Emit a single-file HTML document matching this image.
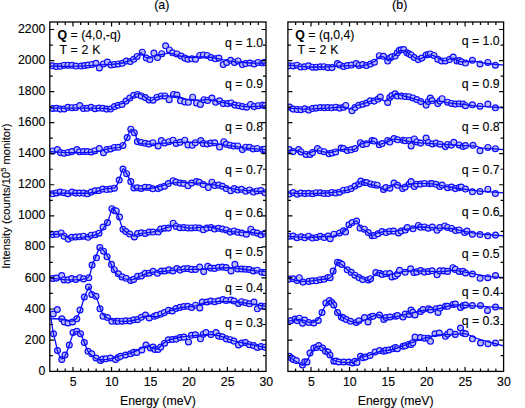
<!DOCTYPE html>
<html><head><meta charset="utf-8"><style>
html,body{margin:0;padding:0;background:#fff;}
body{width:525px;height:408px;overflow:hidden;font-family:"Liberation Sans", sans-serif;}
svg{display:block;}
</style></head><body>
<svg width="525" height="408" viewBox="0 0 525 408">
<rect width="525" height="408" fill="#fff"/>
<clipPath id="ca"><rect x="49.80" y="22.00" width="216.20" height="349.40"/></clipPath>
<g clip-path="url(#ca)">
<g fill="#bcbcf2" stroke="#0a0aff" stroke-width="1.15">
<circle cx="52.5" cy="65.8" r="2.95"/>
<circle cx="56.3" cy="66.5" r="2.95"/>
<circle cx="60.3" cy="66.3" r="2.95"/>
<circle cx="64.2" cy="65.2" r="2.95"/>
<circle cx="68.0" cy="65.2" r="2.95"/>
<circle cx="71.8" cy="65.3" r="2.95"/>
<circle cx="75.9" cy="66.0" r="2.95"/>
<circle cx="81.1" cy="66.1" r="2.95"/>
<circle cx="84.6" cy="65.6" r="2.95"/>
<circle cx="88.0" cy="65.0" r="2.95"/>
<circle cx="92.0" cy="64.4" r="2.95"/>
<circle cx="96.0" cy="63.3" r="2.95"/>
<circle cx="99.4" cy="67.9" r="2.95"/>
<circle cx="103.4" cy="63.9" r="2.95"/>
<circle cx="107.4" cy="62.1" r="2.95"/>
<circle cx="110.9" cy="65.0" r="2.95"/>
<circle cx="114.3" cy="64.4" r="2.95"/>
<circle cx="118.3" cy="63.9" r="2.95"/>
<circle cx="122.3" cy="63.3" r="2.95"/>
<circle cx="126.3" cy="61.0" r="2.95"/>
<circle cx="130.3" cy="61.6" r="2.95"/>
<circle cx="133.7" cy="59.3" r="2.95"/>
<circle cx="137.1" cy="56.4" r="2.95"/>
<circle cx="142.3" cy="52.2" r="2.95"/>
<circle cx="146.3" cy="58.0" r="2.95"/>
<circle cx="149.9" cy="59.5" r="2.95"/>
<circle cx="153.9" cy="53.0" r="2.95"/>
<circle cx="157.5" cy="57.5" r="2.95"/>
<circle cx="161.8" cy="53.7" r="2.95"/>
<circle cx="165.6" cy="45.8" r="2.95"/>
<circle cx="169.4" cy="49.9" r="2.95"/>
<circle cx="172.6" cy="52.8" r="2.95"/>
<circle cx="176.9" cy="53.9" r="2.95"/>
<circle cx="181.2" cy="56.0" r="2.95"/>
<circle cx="184.8" cy="58.1" r="2.95"/>
<circle cx="188.0" cy="59.2" r="2.95"/>
<circle cx="191.8" cy="58.8" r="2.95"/>
<circle cx="195.5" cy="59.2" r="2.95"/>
<circle cx="199.7" cy="55.4" r="2.95"/>
<circle cx="203.4" cy="54.9" r="2.95"/>
<circle cx="207.2" cy="55.4" r="2.95"/>
<circle cx="211.0" cy="57.5" r="2.95"/>
<circle cx="215.3" cy="58.8" r="2.95"/>
<circle cx="218.9" cy="58.1" r="2.95"/>
<circle cx="223.2" cy="64.5" r="2.95"/>
<circle cx="226.8" cy="62.4" r="2.95"/>
<circle cx="230.7" cy="60.3" r="2.95"/>
<circle cx="234.5" cy="62.4" r="2.95"/>
<circle cx="238.1" cy="60.9" r="2.95"/>
<circle cx="242.4" cy="64.5" r="2.95"/>
<circle cx="245.6" cy="63.5" r="2.95"/>
<circle cx="249.9" cy="63.0" r="2.95"/>
<circle cx="254.1" cy="63.9" r="2.95"/>
<circle cx="258.0" cy="62.4" r="2.95"/>
<circle cx="262.7" cy="63.0" r="2.95"/>
<circle cx="264.8" cy="62.2" r="2.95"/>
</g>
<path d="M50.00,66.20 C54.83,66.20 70.67,66.43 79.00,66.20 C87.33,65.97 94.50,65.12 100.00,64.80 C105.50,64.48 108.33,64.60 112.00,64.30 C115.67,64.00 119.33,63.52 122.00,63.00 C124.67,62.48 126.17,61.78 128.00,61.20 C129.83,60.62 131.58,60.20 133.00,59.50 C134.42,58.80 135.13,58.08 136.50,57.00 C137.87,55.92 139.90,53.03 141.20,53.00 C142.50,52.97 142.90,55.97 144.30,56.80 C145.70,57.63 147.70,58.13 149.60,58.00 C151.50,57.87 153.67,56.58 155.70,56.00 C157.73,55.42 159.77,54.93 161.80,54.50 C163.83,54.07 166.12,53.53 167.90,53.40 C169.68,53.27 170.47,53.27 172.50,53.70 C174.53,54.13 177.52,55.37 180.10,56.00 C182.68,56.63 184.85,57.33 188.00,57.50 C191.15,57.67 195.50,57.08 199.00,57.00 C202.50,56.92 205.50,56.63 209.00,57.00 C212.50,57.37 216.38,58.48 220.00,59.20 C223.62,59.92 225.70,60.67 230.70,61.30 C235.70,61.93 244.12,62.72 250.00,63.00 C255.88,63.28 263.33,63.00 266.00,63.00" fill="none" stroke="#0a0aff" stroke-width="1.3" stroke-linejoin="round"/>
<g fill="#bcbcf2" stroke="#0a0aff" stroke-width="1.15">
<circle cx="52.7" cy="108.4" r="2.95"/>
<circle cx="56.4" cy="108.3" r="2.95"/>
<circle cx="60.2" cy="109.1" r="2.95"/>
<circle cx="64.1" cy="108.9" r="2.95"/>
<circle cx="67.9" cy="107.3" r="2.95"/>
<circle cx="72.0" cy="107.7" r="2.95"/>
<circle cx="75.8" cy="107.4" r="2.95"/>
<circle cx="79.8" cy="105.6" r="2.95"/>
<circle cx="83.4" cy="108.5" r="2.95"/>
<circle cx="87.2" cy="108.3" r="2.95"/>
<circle cx="91.1" cy="107.3" r="2.95"/>
<circle cx="95.0" cy="108.7" r="2.95"/>
<circle cx="98.9" cy="108.0" r="2.95"/>
<circle cx="102.7" cy="108.3" r="2.95"/>
<circle cx="106.7" cy="109.1" r="2.95"/>
<circle cx="110.5" cy="109.0" r="2.95"/>
<circle cx="114.5" cy="106.6" r="2.95"/>
<circle cx="118.2" cy="105.3" r="2.95"/>
<circle cx="122.0" cy="104.4" r="2.95"/>
<circle cx="126.0" cy="101.1" r="2.95"/>
<circle cx="129.8" cy="98.1" r="2.95"/>
<circle cx="133.7" cy="95.3" r="2.95"/>
<circle cx="137.5" cy="94.4" r="2.95"/>
<circle cx="141.3" cy="95.9" r="2.95"/>
<circle cx="145.3" cy="97.6" r="2.95"/>
<circle cx="149.1" cy="99.9" r="2.95"/>
<circle cx="153.1" cy="100.2" r="2.95"/>
<circle cx="157.0" cy="97.2" r="2.95"/>
<circle cx="161.3" cy="95.9" r="2.95"/>
<circle cx="165.0" cy="95.9" r="2.95"/>
<circle cx="169.2" cy="99.7" r="2.95"/>
<circle cx="173.5" cy="94.4" r="2.95"/>
<circle cx="176.9" cy="95.0" r="2.95"/>
<circle cx="180.5" cy="100.8" r="2.95"/>
<circle cx="184.8" cy="101.9" r="2.95"/>
<circle cx="188.4" cy="102.3" r="2.95"/>
<circle cx="192.7" cy="97.2" r="2.95"/>
<circle cx="196.5" cy="102.9" r="2.95"/>
<circle cx="200.4" cy="104.4" r="2.95"/>
<circle cx="204.0" cy="99.7" r="2.95"/>
<circle cx="207.6" cy="100.4" r="2.95"/>
<circle cx="211.9" cy="98.0" r="2.95"/>
<circle cx="215.7" cy="102.3" r="2.95"/>
<circle cx="219.6" cy="100.8" r="2.95"/>
<circle cx="223.2" cy="103.6" r="2.95"/>
<circle cx="227.5" cy="103.6" r="2.95"/>
<circle cx="231.1" cy="102.9" r="2.95"/>
<circle cx="234.9" cy="105.1" r="2.95"/>
<circle cx="238.8" cy="105.7" r="2.95"/>
<circle cx="242.4" cy="106.6" r="2.95"/>
<circle cx="246.7" cy="107.2" r="2.95"/>
<circle cx="250.5" cy="104.4" r="2.95"/>
<circle cx="254.1" cy="106.6" r="2.95"/>
<circle cx="258.4" cy="105.7" r="2.95"/>
<circle cx="262.7" cy="105.1" r="2.95"/>
<circle cx="264.9" cy="105.7" r="2.95"/>
</g>
<path d="M50.00,108.10 C55.00,108.10 70.55,108.03 80.00,108.10 C89.45,108.17 101.70,108.18 106.70,108.50 C111.70,108.82 108.62,110.42 110.00,110.00 C111.38,109.58 112.77,107.18 115.00,106.00 C117.23,104.82 120.60,104.30 123.40,102.90 C126.20,101.50 129.35,99.18 131.80,97.60 C134.25,96.02 136.00,93.57 138.10,93.40 C140.20,93.23 142.30,95.37 144.40,96.60 C146.50,97.83 148.78,100.63 150.70,100.80 C152.62,100.97 153.60,98.42 155.90,97.60 C158.20,96.78 160.93,96.08 164.50,95.90 C168.07,95.72 173.38,95.87 177.30,96.50 C181.22,97.13 184.43,99.08 188.00,99.70 C191.57,100.32 195.15,100.20 198.70,100.20 C202.25,100.20 205.75,99.42 209.30,99.70 C212.85,99.98 216.43,101.18 220.00,101.90 C223.57,102.62 227.15,103.30 230.70,104.00 C234.25,104.70 237.75,105.67 241.30,106.10 C244.85,106.53 247.88,106.67 252.00,106.60 C256.12,106.53 263.67,105.85 266.00,105.70" fill="none" stroke="#0a0aff" stroke-width="1.3" stroke-linejoin="round"/>
<g fill="#bcbcf2" stroke="#0a0aff" stroke-width="1.15">
<circle cx="52.7" cy="150.9" r="2.95"/>
<circle cx="57.4" cy="149.6" r="2.95"/>
<circle cx="60.5" cy="152.6" r="2.95"/>
<circle cx="64.1" cy="153.2" r="2.95"/>
<circle cx="68.1" cy="152.4" r="2.95"/>
<circle cx="71.9" cy="151.6" r="2.95"/>
<circle cx="76.9" cy="149.6" r="2.95"/>
<circle cx="79.5" cy="151.8" r="2.95"/>
<circle cx="83.6" cy="151.5" r="2.95"/>
<circle cx="87.3" cy="151.5" r="2.95"/>
<circle cx="91.3" cy="151.9" r="2.95"/>
<circle cx="95.0" cy="150.7" r="2.95"/>
<circle cx="99.3" cy="148.5" r="2.95"/>
<circle cx="103.5" cy="152.7" r="2.95"/>
<circle cx="106.8" cy="149.5" r="2.95"/>
<circle cx="110.6" cy="148.9" r="2.95"/>
<circle cx="114.3" cy="147.4" r="2.95"/>
<circle cx="118.3" cy="147.3" r="2.95"/>
<circle cx="123.0" cy="145.4" r="2.95"/>
<circle cx="127.2" cy="137.6" r="2.95"/>
<circle cx="130.8" cy="129.2" r="2.95"/>
<circle cx="134.3" cy="132.8" r="2.95"/>
<circle cx="137.4" cy="141.6" r="2.95"/>
<circle cx="141.3" cy="142.4" r="2.95"/>
<circle cx="145.2" cy="143.3" r="2.95"/>
<circle cx="149.0" cy="144.1" r="2.95"/>
<circle cx="152.9" cy="142.7" r="2.95"/>
<circle cx="158.1" cy="145.9" r="2.95"/>
<circle cx="161.3" cy="140.6" r="2.95"/>
<circle cx="164.6" cy="142.9" r="2.95"/>
<circle cx="168.8" cy="141.7" r="2.95"/>
<circle cx="173.1" cy="140.2" r="2.95"/>
<circle cx="176.2" cy="143.4" r="2.95"/>
<circle cx="180.0" cy="142.3" r="2.95"/>
<circle cx="184.8" cy="140.2" r="2.95"/>
<circle cx="188.0" cy="144.9" r="2.95"/>
<circle cx="192.3" cy="145.3" r="2.95"/>
<circle cx="195.3" cy="142.7" r="2.95"/>
<circle cx="200.8" cy="140.6" r="2.95"/>
<circle cx="203.2" cy="143.6" r="2.95"/>
<circle cx="207.1" cy="143.9" r="2.95"/>
<circle cx="210.8" cy="143.1" r="2.95"/>
<circle cx="214.8" cy="142.8" r="2.95"/>
<circle cx="219.6" cy="147.0" r="2.95"/>
<circle cx="223.8" cy="141.7" r="2.95"/>
<circle cx="226.2" cy="144.3" r="2.95"/>
<circle cx="230.1" cy="145.2" r="2.95"/>
<circle cx="233.9" cy="146.0" r="2.95"/>
<circle cx="237.8" cy="145.9" r="2.95"/>
<circle cx="242.4" cy="149.6" r="2.95"/>
<circle cx="245.6" cy="147.2" r="2.95"/>
<circle cx="249.6" cy="147.3" r="2.95"/>
<circle cx="253.2" cy="148.9" r="2.95"/>
<circle cx="257.1" cy="148.4" r="2.95"/>
<circle cx="262.7" cy="149.6" r="2.95"/>
<circle cx="264.8" cy="149.2" r="2.95"/>
</g>
<path d="M50.00,151.70 C53.17,151.87 62.35,152.60 69.00,152.70 C75.65,152.80 84.32,152.65 89.90,152.30 C95.48,151.95 99.00,151.30 102.50,150.60 C106.00,149.90 108.12,148.62 110.90,148.10 C113.68,147.58 117.12,148.13 119.20,147.50 C121.28,146.87 122.07,145.95 123.40,144.30 C124.73,142.65 125.97,140.03 127.20,137.60 C128.43,135.17 129.50,130.40 130.80,129.70 C132.10,129.00 133.78,131.32 135.00,133.40 C136.22,135.48 136.53,140.45 138.10,142.20 C139.67,143.95 141.42,143.63 144.40,143.90 C147.38,144.17 150.52,144.07 156.00,143.80 C161.48,143.53 170.18,142.55 177.30,142.30 C184.42,142.05 192.30,142.05 198.70,142.30 C205.10,142.55 210.37,143.20 215.70,143.80 C221.03,144.40 225.72,145.18 230.70,145.90 C235.68,146.62 239.72,147.48 245.60,148.10 C251.48,148.72 262.60,149.35 266.00,149.60" fill="none" stroke="#0a0aff" stroke-width="1.3" stroke-linejoin="round"/>
<g fill="#bcbcf2" stroke="#0a0aff" stroke-width="1.15">
<circle cx="52.7" cy="193.8" r="2.95"/>
<circle cx="56.5" cy="192.9" r="2.95"/>
<circle cx="60.2" cy="192.1" r="2.95"/>
<circle cx="64.1" cy="192.7" r="2.95"/>
<circle cx="67.9" cy="193.7" r="2.95"/>
<circle cx="72.0" cy="192.0" r="2.95"/>
<circle cx="75.7" cy="193.1" r="2.95"/>
<circle cx="79.5" cy="193.1" r="2.95"/>
<circle cx="83.6" cy="193.1" r="2.95"/>
<circle cx="87.4" cy="193.8" r="2.95"/>
<circle cx="91.2" cy="192.1" r="2.95"/>
<circle cx="95.1" cy="190.8" r="2.95"/>
<circle cx="99.0" cy="190.5" r="2.95"/>
<circle cx="102.7" cy="189.0" r="2.95"/>
<circle cx="106.8" cy="189.5" r="2.95"/>
<circle cx="110.6" cy="189.1" r="2.95"/>
<circle cx="114.4" cy="188.2" r="2.95"/>
<circle cx="119.2" cy="180.0" r="2.95"/>
<circle cx="123.0" cy="169.1" r="2.95"/>
<circle cx="126.6" cy="173.7" r="2.95"/>
<circle cx="130.8" cy="181.6" r="2.95"/>
<circle cx="133.9" cy="187.9" r="2.95"/>
<circle cx="137.5" cy="187.8" r="2.95"/>
<circle cx="141.2" cy="188.4" r="2.95"/>
<circle cx="145.2" cy="187.3" r="2.95"/>
<circle cx="149.2" cy="187.5" r="2.95"/>
<circle cx="152.9" cy="188.8" r="2.95"/>
<circle cx="158.1" cy="188.6" r="2.95"/>
<circle cx="160.8" cy="187.2" r="2.95"/>
<circle cx="164.5" cy="186.2" r="2.95"/>
<circle cx="168.3" cy="183.5" r="2.95"/>
<circle cx="173.1" cy="180.7" r="2.95"/>
<circle cx="176.0" cy="182.1" r="2.95"/>
<circle cx="180.1" cy="183.1" r="2.95"/>
<circle cx="183.8" cy="183.5" r="2.95"/>
<circle cx="188.0" cy="185.8" r="2.95"/>
<circle cx="191.6" cy="183.1" r="2.95"/>
<circle cx="196.5" cy="181.6" r="2.95"/>
<circle cx="199.3" cy="182.3" r="2.95"/>
<circle cx="203.2" cy="184.5" r="2.95"/>
<circle cx="208.3" cy="187.5" r="2.95"/>
<circle cx="211.9" cy="182.2" r="2.95"/>
<circle cx="214.7" cy="185.5" r="2.95"/>
<circle cx="218.7" cy="185.1" r="2.95"/>
<circle cx="222.5" cy="186.3" r="2.95"/>
<circle cx="226.3" cy="188.5" r="2.95"/>
<circle cx="230.7" cy="190.7" r="2.95"/>
<circle cx="234.2" cy="188.6" r="2.95"/>
<circle cx="237.8" cy="190.0" r="2.95"/>
<circle cx="241.6" cy="189.3" r="2.95"/>
<circle cx="245.7" cy="191.3" r="2.95"/>
<circle cx="249.6" cy="189.9" r="2.95"/>
<circle cx="253.4" cy="192.0" r="2.95"/>
<circle cx="257.2" cy="190.9" r="2.95"/>
<circle cx="260.9" cy="190.6" r="2.95"/>
<circle cx="264.9" cy="192.8" r="2.95"/>
</g>
<path d="M50.00,193.00 C56.65,193.00 81.15,193.60 89.90,193.00 C98.65,192.40 99.00,190.18 102.50,189.40 C106.00,188.62 108.73,188.65 110.90,188.30 C113.07,187.95 114.12,188.68 115.50,187.30 C116.88,185.92 117.95,183.03 119.20,180.00 C120.45,176.97 121.77,170.15 123.00,169.10 C124.23,168.05 125.30,171.62 126.60,173.70 C127.90,175.78 129.58,179.23 130.80,181.60 C132.02,183.97 132.33,186.70 133.90,187.90 C135.47,189.10 136.52,188.87 140.20,188.80 C143.88,188.73 150.52,188.50 156.00,187.50 C161.48,186.50 166.70,183.58 173.10,182.80 C179.50,182.02 188.00,182.55 194.40,182.80 C200.80,183.05 206.17,183.52 211.50,184.30 C216.83,185.08 221.43,186.53 226.40,187.50 C231.37,188.47 234.70,189.38 241.30,190.10 C247.90,190.82 261.88,191.52 266.00,191.80" fill="none" stroke="#0a0aff" stroke-width="1.3" stroke-linejoin="round"/>
<g fill="#bcbcf2" stroke="#0a0aff" stroke-width="1.15">
<circle cx="52.7" cy="234.6" r="2.95"/>
<circle cx="56.6" cy="234.3" r="2.95"/>
<circle cx="61.2" cy="232.9" r="2.95"/>
<circle cx="64.1" cy="236.2" r="2.95"/>
<circle cx="68.3" cy="239.1" r="2.95"/>
<circle cx="71.8" cy="237.3" r="2.95"/>
<circle cx="75.8" cy="237.0" r="2.95"/>
<circle cx="79.6" cy="236.8" r="2.95"/>
<circle cx="83.6" cy="236.2" r="2.95"/>
<circle cx="88.1" cy="237.3" r="2.95"/>
<circle cx="91.2" cy="235.2" r="2.95"/>
<circle cx="95.2" cy="234.7" r="2.95"/>
<circle cx="99.0" cy="233.2" r="2.95"/>
<circle cx="103.1" cy="227.0" r="2.95"/>
<circle cx="107.5" cy="222.6" r="2.95"/>
<circle cx="111.9" cy="208.7" r="2.95"/>
<circle cx="114.4" cy="210.5" r="2.95"/>
<circle cx="116.3" cy="210.9" r="2.95"/>
<circle cx="119.6" cy="217.0" r="2.95"/>
<circle cx="123.0" cy="229.2" r="2.95"/>
<circle cx="125.8" cy="231.6" r="2.95"/>
<circle cx="129.7" cy="234.0" r="2.95"/>
<circle cx="134.4" cy="236.9" r="2.95"/>
<circle cx="137.6" cy="233.5" r="2.95"/>
<circle cx="141.4" cy="232.8" r="2.95"/>
<circle cx="145.3" cy="233.4" r="2.95"/>
<circle cx="149.1" cy="232.0" r="2.95"/>
<circle cx="153.0" cy="232.0" r="2.95"/>
<circle cx="158.2" cy="232.0" r="2.95"/>
<circle cx="160.7" cy="229.1" r="2.95"/>
<circle cx="164.5" cy="228.2" r="2.95"/>
<circle cx="168.4" cy="228.1" r="2.95"/>
<circle cx="173.2" cy="223.2" r="2.95"/>
<circle cx="176.2" cy="226.4" r="2.95"/>
<circle cx="180.0" cy="227.7" r="2.95"/>
<circle cx="183.8" cy="227.6" r="2.95"/>
<circle cx="187.8" cy="227.9" r="2.95"/>
<circle cx="191.6" cy="227.9" r="2.95"/>
<circle cx="195.6" cy="227.7" r="2.95"/>
<circle cx="199.4" cy="228.0" r="2.95"/>
<circle cx="203.4" cy="229.8" r="2.95"/>
<circle cx="206.9" cy="228.1" r="2.95"/>
<circle cx="211.0" cy="227.6" r="2.95"/>
<circle cx="214.6" cy="229.0" r="2.95"/>
<circle cx="218.6" cy="228.3" r="2.95"/>
<circle cx="222.4" cy="229.1" r="2.95"/>
<circle cx="226.4" cy="229.9" r="2.95"/>
<circle cx="230.3" cy="232.1" r="2.95"/>
<circle cx="234.1" cy="230.9" r="2.95"/>
<circle cx="237.8" cy="232.3" r="2.95"/>
<circle cx="241.9" cy="233.0" r="2.95"/>
<circle cx="246.4" cy="234.2" r="2.95"/>
<circle cx="250.8" cy="229.2" r="2.95"/>
<circle cx="253.5" cy="232.3" r="2.95"/>
<circle cx="257.2" cy="233.1" r="2.95"/>
<circle cx="261.1" cy="234.8" r="2.95"/>
<circle cx="264.9" cy="233.3" r="2.95"/>
</g>
<path d="M50.00,234.70 C51.87,234.62 57.87,233.65 61.20,234.20 C64.53,234.75 65.95,237.55 70.00,238.00 C74.05,238.45 80.72,237.63 85.50,236.90 C90.28,236.17 95.58,235.25 98.70,233.60 C101.82,231.95 102.55,229.38 104.20,227.00 C105.85,224.62 107.32,222.25 108.60,219.30 C109.88,216.35 110.80,210.70 111.90,209.30 C113.00,207.90 114.02,209.43 115.20,210.90 C116.38,212.37 117.70,215.05 119.00,218.10 C120.30,221.15 121.42,226.62 123.00,229.20 C124.58,231.78 126.67,232.50 128.50,233.60 C130.33,234.70 131.98,235.80 134.00,235.80 C136.02,235.80 136.93,234.33 140.60,233.60 C144.27,232.87 150.50,232.68 156.00,231.40 C161.50,230.12 168.08,226.45 173.60,225.90 C179.12,225.35 183.22,227.92 189.10,228.10 C194.98,228.28 202.28,226.45 208.90,227.00 C215.52,227.55 222.18,230.48 228.80,231.40 C235.42,232.32 242.40,232.03 248.60,232.50 C254.80,232.97 263.10,233.92 266.00,234.20" fill="none" stroke="#0a0aff" stroke-width="1.3" stroke-linejoin="round"/>
<g fill="#bcbcf2" stroke="#0a0aff" stroke-width="1.15">
<circle cx="52.6" cy="278.5" r="2.95"/>
<circle cx="56.4" cy="278.1" r="2.95"/>
<circle cx="61.7" cy="275.5" r="2.95"/>
<circle cx="64.0" cy="279.9" r="2.95"/>
<circle cx="68.0" cy="279.9" r="2.95"/>
<circle cx="71.8" cy="278.6" r="2.95"/>
<circle cx="75.8" cy="279.5" r="2.95"/>
<circle cx="79.8" cy="277.7" r="2.95"/>
<circle cx="83.6" cy="278.9" r="2.95"/>
<circle cx="88.8" cy="277.7" r="2.95"/>
<circle cx="92.1" cy="265.1" r="2.95"/>
<circle cx="96.5" cy="257.8" r="2.95"/>
<circle cx="99.8" cy="247.5" r="2.95"/>
<circle cx="103.6" cy="251.2" r="2.95"/>
<circle cx="107.1" cy="256.7" r="2.95"/>
<circle cx="111.5" cy="264.4" r="2.95"/>
<circle cx="114.3" cy="269.7" r="2.95"/>
<circle cx="118.3" cy="273.8" r="2.95"/>
<circle cx="122.0" cy="276.9" r="2.95"/>
<circle cx="126.1" cy="278.3" r="2.95"/>
<circle cx="130.7" cy="280.5" r="2.95"/>
<circle cx="133.6" cy="279.4" r="2.95"/>
<circle cx="137.6" cy="276.4" r="2.95"/>
<circle cx="141.4" cy="275.9" r="2.95"/>
<circle cx="145.1" cy="273.4" r="2.95"/>
<circle cx="149.1" cy="273.2" r="2.95"/>
<circle cx="153.1" cy="271.4" r="2.95"/>
<circle cx="157.4" cy="273.3" r="2.95"/>
<circle cx="161.4" cy="271.0" r="2.95"/>
<circle cx="164.9" cy="271.0" r="2.95"/>
<circle cx="168.9" cy="269.9" r="2.95"/>
<circle cx="172.9" cy="271.0" r="2.95"/>
<circle cx="176.9" cy="268.5" r="2.95"/>
<circle cx="180.1" cy="270.1" r="2.95"/>
<circle cx="183.9" cy="268.8" r="2.95"/>
<circle cx="187.8" cy="268.6" r="2.95"/>
<circle cx="191.5" cy="269.4" r="2.95"/>
<circle cx="195.5" cy="269.5" r="2.95"/>
<circle cx="199.7" cy="267.0" r="2.95"/>
<circle cx="203.7" cy="271.6" r="2.95"/>
<circle cx="207.7" cy="266.4" r="2.95"/>
<circle cx="210.7" cy="268.1" r="2.95"/>
<circle cx="214.6" cy="268.4" r="2.95"/>
<circle cx="218.5" cy="267.3" r="2.95"/>
<circle cx="222.4" cy="267.1" r="2.95"/>
<circle cx="226.2" cy="267.6" r="2.95"/>
<circle cx="231.0" cy="271.0" r="2.95"/>
<circle cx="234.9" cy="264.4" r="2.95"/>
<circle cx="237.8" cy="269.0" r="2.95"/>
<circle cx="241.6" cy="269.0" r="2.95"/>
<circle cx="245.5" cy="269.2" r="2.95"/>
<circle cx="249.3" cy="269.5" r="2.95"/>
<circle cx="253.3" cy="271.0" r="2.95"/>
<circle cx="257.2" cy="270.2" r="2.95"/>
<circle cx="261.8" cy="272.2" r="2.95"/>
<circle cx="264.8" cy="272.5" r="2.95"/>
</g>
<path d="M50.00,278.30 C53.33,278.57 63.72,280.00 70.00,279.90 C76.28,279.80 84.02,280.10 87.70,277.70 C91.38,275.30 90.82,268.82 92.10,265.50 C93.38,262.18 94.12,260.73 95.40,257.80 C96.68,254.87 98.33,249.00 99.80,247.90 C101.27,246.80 102.92,249.80 104.20,251.20 C105.48,252.60 106.28,253.98 107.50,256.30 C108.72,258.62 110.22,262.45 111.50,265.10 C112.78,267.75 113.65,270.22 115.20,272.20 C116.75,274.18 118.22,275.72 120.80,277.00 C123.38,278.28 127.40,280.07 130.70,279.90 C134.00,279.73 137.38,277.23 140.60,276.00 C143.82,274.77 147.10,273.17 150.00,272.50 C152.90,271.83 153.33,272.45 158.00,272.00 C162.67,271.55 170.98,270.25 178.00,269.80 C185.02,269.35 193.48,269.57 200.10,269.30 C206.72,269.03 212.18,268.45 217.70,268.20 C223.22,267.95 228.05,267.50 233.20,267.80 C238.35,268.10 243.13,269.35 248.60,270.00 C254.07,270.65 263.10,271.42 266.00,271.70" fill="none" stroke="#0a0aff" stroke-width="1.3" stroke-linejoin="round"/>
<g fill="#bcbcf2" stroke="#0a0aff" stroke-width="1.15">
<circle cx="53.2" cy="314.0" r="2.95"/>
<circle cx="57.3" cy="309.5" r="2.95"/>
<circle cx="61.8" cy="318.8" r="2.95"/>
<circle cx="64.3" cy="322.0" r="2.95"/>
<circle cx="68.0" cy="323.0" r="2.95"/>
<circle cx="72.5" cy="322.0" r="2.95"/>
<circle cx="76.8" cy="318.8" r="2.95"/>
<circle cx="80.0" cy="310.0" r="2.95"/>
<circle cx="84.3" cy="297.0" r="2.95"/>
<circle cx="88.5" cy="287.0" r="2.95"/>
<circle cx="91.8" cy="294.5" r="2.95"/>
<circle cx="96.0" cy="296.3" r="2.95"/>
<circle cx="100.0" cy="308.8" r="2.95"/>
<circle cx="103.0" cy="316.3" r="2.95"/>
<circle cx="107.5" cy="317.5" r="2.95"/>
<circle cx="111.8" cy="321.3" r="2.95"/>
<circle cx="116.0" cy="321.3" r="2.95"/>
<circle cx="118.2" cy="321.3" r="2.95"/>
<circle cx="122.2" cy="321.2" r="2.95"/>
<circle cx="125.9" cy="320.8" r="2.95"/>
<circle cx="129.9" cy="321.0" r="2.95"/>
<circle cx="133.8" cy="319.8" r="2.95"/>
<circle cx="137.6" cy="319.6" r="2.95"/>
<circle cx="141.3" cy="317.3" r="2.95"/>
<circle cx="145.5" cy="315.0" r="2.95"/>
<circle cx="149.3" cy="318.0" r="2.95"/>
<circle cx="154.3" cy="316.3" r="2.95"/>
<circle cx="156.7" cy="315.3" r="2.95"/>
<circle cx="160.8" cy="314.1" r="2.95"/>
<circle cx="164.4" cy="312.6" r="2.95"/>
<circle cx="168.5" cy="310.4" r="2.95"/>
<circle cx="172.3" cy="311.0" r="2.95"/>
<circle cx="176.0" cy="308.5" r="2.95"/>
<circle cx="180.0" cy="307.4" r="2.95"/>
<circle cx="183.8" cy="306.5" r="2.95"/>
<circle cx="187.8" cy="306.3" r="2.95"/>
<circle cx="191.6" cy="307.5" r="2.95"/>
<circle cx="195.6" cy="305.2" r="2.95"/>
<circle cx="199.8" cy="308.0" r="2.95"/>
<circle cx="202.3" cy="302.0" r="2.95"/>
<circle cx="207.0" cy="302.0" r="2.95"/>
<circle cx="210.8" cy="301.0" r="2.95"/>
<circle cx="214.7" cy="301.7" r="2.95"/>
<circle cx="218.6" cy="300.8" r="2.95"/>
<circle cx="223.0" cy="299.5" r="2.95"/>
<circle cx="226.2" cy="300.5" r="2.95"/>
<circle cx="231.0" cy="300.0" r="2.95"/>
<circle cx="234.0" cy="301.0" r="2.95"/>
<circle cx="238.5" cy="303.5" r="2.95"/>
<circle cx="241.6" cy="301.7" r="2.95"/>
<circle cx="245.5" cy="302.7" r="2.95"/>
<circle cx="249.5" cy="303.8" r="2.95"/>
<circle cx="254.0" cy="302.0" r="2.95"/>
<circle cx="257.3" cy="308.8" r="2.95"/>
<circle cx="261.1" cy="306.0" r="2.95"/>
<circle cx="265.0" cy="306.6" r="2.95"/>
</g>
<path d="M50.00,318.80 C51.75,318.83 57.28,318.58 60.50,319.00 C63.72,319.42 66.80,321.22 69.30,321.30 C71.80,321.38 73.72,321.17 75.50,319.50 C77.28,317.83 78.53,314.97 80.00,311.30 C81.47,307.63 82.88,301.38 84.30,297.50 C85.72,293.62 87.67,289.67 88.50,288.00 C89.33,286.33 88.63,286.53 89.30,287.50 C89.97,288.47 91.25,291.92 92.50,293.80 C93.75,295.68 95.55,296.52 96.80,298.80 C98.05,301.08 98.88,304.80 100.00,307.50 C101.12,310.20 101.75,313.00 103.50,315.00 C105.25,317.00 107.25,318.45 110.50,319.50 C113.75,320.55 118.83,321.22 123.00,321.30 C127.17,321.38 131.95,320.83 135.50,320.00 C139.05,319.17 140.55,316.92 144.30,316.30 C148.05,315.68 153.97,317.13 158.00,316.30 C162.03,315.47 164.67,312.77 168.50,311.30 C172.33,309.83 176.83,308.33 181.00,307.50 C185.17,306.67 189.33,307.13 193.50,306.30 C197.67,305.47 201.42,303.33 206.00,302.50 C210.58,301.67 216.00,301.38 221.00,301.30 C226.00,301.22 231.00,301.58 236.00,302.00 C241.00,302.42 246.00,303.08 251.00,303.80 C256.00,304.52 263.50,305.88 266.00,306.30" fill="none" stroke="#0a0aff" stroke-width="1.3" stroke-linejoin="round"/>
<g fill="#bcbcf2" stroke="#0a0aff" stroke-width="1.15">
<circle cx="53.5" cy="333.8" r="2.95"/>
<circle cx="57.5" cy="350.5" r="2.95"/>
<circle cx="61.8" cy="359.5" r="2.95"/>
<circle cx="65.0" cy="355.0" r="2.95"/>
<circle cx="69.3" cy="345.0" r="2.95"/>
<circle cx="73.0" cy="332.5" r="2.95"/>
<circle cx="76.8" cy="331.3" r="2.95"/>
<circle cx="80.5" cy="333.8" r="2.95"/>
<circle cx="84.3" cy="342.5" r="2.95"/>
<circle cx="88.0" cy="351.3" r="2.95"/>
<circle cx="91.8" cy="353.8" r="2.95"/>
<circle cx="96.0" cy="358.0" r="2.95"/>
<circle cx="100.5" cy="360.5" r="2.95"/>
<circle cx="102.7" cy="359.0" r="2.95"/>
<circle cx="106.0" cy="358.8" r="2.95"/>
<circle cx="110.5" cy="358.0" r="2.95"/>
<circle cx="115.5" cy="359.5" r="2.95"/>
<circle cx="118.1" cy="357.5" r="2.95"/>
<circle cx="120.5" cy="356.3" r="2.95"/>
<circle cx="125.5" cy="355.0" r="2.95"/>
<circle cx="130.5" cy="353.8" r="2.95"/>
<circle cx="133.7" cy="352.3" r="2.95"/>
<circle cx="136.8" cy="352.5" r="2.95"/>
<circle cx="141.8" cy="350.0" r="2.95"/>
<circle cx="146.0" cy="345.0" r="2.95"/>
<circle cx="150.5" cy="348.0" r="2.95"/>
<circle cx="153.1" cy="347.0" r="2.95"/>
<circle cx="155.0" cy="349.5" r="2.95"/>
<circle cx="158.0" cy="349.5" r="2.95"/>
<circle cx="160.7" cy="347.1" r="2.95"/>
<circle cx="164.6" cy="343.2" r="2.95"/>
<circle cx="168.4" cy="339.8" r="2.95"/>
<circle cx="172.4" cy="339.5" r="2.95"/>
<circle cx="176.2" cy="339.1" r="2.95"/>
<circle cx="180.1" cy="337.5" r="2.95"/>
<circle cx="183.9" cy="337.1" r="2.95"/>
<circle cx="188.5" cy="342.0" r="2.95"/>
<circle cx="191.4" cy="335.3" r="2.95"/>
<circle cx="195.4" cy="334.8" r="2.95"/>
<circle cx="200.5" cy="338.8" r="2.95"/>
<circle cx="203.2" cy="334.2" r="2.95"/>
<circle cx="206.0" cy="332.5" r="2.95"/>
<circle cx="210.9" cy="334.6" r="2.95"/>
<circle cx="216.0" cy="332.5" r="2.95"/>
<circle cx="218.6" cy="336.1" r="2.95"/>
<circle cx="222.3" cy="336.8" r="2.95"/>
<circle cx="226.4" cy="338.9" r="2.95"/>
<circle cx="230.2" cy="339.7" r="2.95"/>
<circle cx="233.9" cy="341.1" r="2.95"/>
<circle cx="238.5" cy="345.0" r="2.95"/>
<circle cx="241.7" cy="343.1" r="2.95"/>
<circle cx="245.5" cy="342.5" r="2.95"/>
<circle cx="249.4" cy="344.7" r="2.95"/>
<circle cx="253.5" cy="345.5" r="2.95"/>
<circle cx="257.3" cy="347.5" r="2.95"/>
<circle cx="261.0" cy="346.5" r="2.95"/>
<circle cx="265.0" cy="347.2" r="2.95"/>
</g>
<path d="M49.50,308.00 C50.07,311.83 51.90,325.33 52.90,331.00 C53.90,336.67 54.65,338.42 55.50,342.00 C56.35,345.58 56.95,349.70 58.00,352.50 C59.05,355.30 60.55,358.38 61.80,358.80 C63.05,359.22 64.25,357.30 65.50,355.00 C66.75,352.70 68.05,348.42 69.30,345.00 C70.55,341.58 71.75,336.78 73.00,334.50 C74.25,332.22 75.55,331.42 76.80,331.30 C78.05,331.18 79.25,331.93 80.50,333.80 C81.75,335.67 83.05,339.58 84.30,342.50 C85.55,345.42 86.55,349.00 88.00,351.30 C89.45,353.60 91.33,354.93 93.00,356.30 C94.67,357.67 95.08,359.08 98.00,359.50 C100.92,359.92 106.33,359.55 110.50,358.80 C114.67,358.05 118.83,356.25 123.00,355.00 C127.17,353.75 131.75,352.75 135.50,351.30 C139.25,349.85 142.58,346.85 145.50,346.30 C148.42,345.75 150.92,347.58 153.00,348.00 C155.08,348.42 155.83,349.92 158.00,348.80 C160.17,347.68 162.17,343.27 166.00,341.30 C169.83,339.33 176.00,337.97 181.00,337.00 C186.00,336.03 191.00,335.92 196.00,335.50 C201.00,335.08 206.83,334.37 211.00,334.50 C215.17,334.63 217.67,335.38 221.00,336.30 C224.33,337.22 227.25,338.88 231.00,340.00 C234.75,341.12 239.33,342.08 243.50,343.00 C247.67,343.92 252.25,344.75 256.00,345.50 C259.75,346.25 264.33,347.17 266.00,347.50" fill="none" stroke="#0a0aff" stroke-width="1.3" stroke-linejoin="round"/>
</g>
<clipPath id="cb"><rect x="287.90" y="22.00" width="215.70" height="349.40"/></clipPath>
<g clip-path="url(#cb)">
<g fill="#bcbcf2" stroke="#0a0aff" stroke-width="1.15">
<circle cx="289.4" cy="65.8" r="2.95"/>
<circle cx="293.1" cy="65.9" r="2.95"/>
<circle cx="297.0" cy="65.2" r="2.95"/>
<circle cx="300.9" cy="66.9" r="2.95"/>
<circle cx="304.7" cy="66.8" r="2.95"/>
<circle cx="308.6" cy="65.8" r="2.95"/>
<circle cx="312.6" cy="67.2" r="2.95"/>
<circle cx="316.4" cy="67.2" r="2.95"/>
<circle cx="320.3" cy="66.8" r="2.95"/>
<circle cx="324.0" cy="66.7" r="2.95"/>
<circle cx="327.9" cy="67.6" r="2.95"/>
<circle cx="332.0" cy="67.6" r="2.95"/>
<circle cx="337.4" cy="63.5" r="2.95"/>
<circle cx="339.6" cy="65.0" r="2.95"/>
<circle cx="343.6" cy="66.6" r="2.95"/>
<circle cx="347.2" cy="65.5" r="2.95"/>
<circle cx="351.3" cy="65.1" r="2.95"/>
<circle cx="356.2" cy="63.5" r="2.95"/>
<circle cx="358.9" cy="65.4" r="2.95"/>
<circle cx="362.7" cy="64.5" r="2.95"/>
<circle cx="366.5" cy="65.5" r="2.95"/>
<circle cx="370.5" cy="64.0" r="2.95"/>
<circle cx="374.4" cy="62.2" r="2.95"/>
<circle cx="379.3" cy="55.7" r="2.95"/>
<circle cx="383.5" cy="56.3" r="2.95"/>
<circle cx="387.7" cy="61.0" r="2.95"/>
<circle cx="389.9" cy="58.0" r="2.95"/>
<circle cx="391.9" cy="56.8" r="2.95"/>
<circle cx="395.1" cy="56.0" r="2.95"/>
<circle cx="397.3" cy="52.8" r="2.95"/>
<circle cx="399.4" cy="50.2" r="2.95"/>
<circle cx="401.3" cy="49.8" r="2.95"/>
<circle cx="403.7" cy="49.6" r="2.95"/>
<circle cx="406.9" cy="52.8" r="2.95"/>
<circle cx="409.0" cy="53.8" r="2.95"/>
<circle cx="411.1" cy="54.9" r="2.95"/>
<circle cx="414.3" cy="57.5" r="2.95"/>
<circle cx="418.2" cy="59.6" r="2.95"/>
<circle cx="421.8" cy="58.1" r="2.95"/>
<circle cx="426.1" cy="54.9" r="2.95"/>
<circle cx="428.3" cy="54.5" r="2.95"/>
<circle cx="430.3" cy="53.9" r="2.95"/>
<circle cx="434.0" cy="55.4" r="2.95"/>
<circle cx="437.8" cy="59.2" r="2.95"/>
<circle cx="441.6" cy="60.9" r="2.95"/>
<circle cx="445.3" cy="60.9" r="2.95"/>
<circle cx="449.5" cy="59.6" r="2.95"/>
<circle cx="453.2" cy="57.1" r="2.95"/>
<circle cx="457.0" cy="60.9" r="2.95"/>
<circle cx="459.3" cy="60.5" r="2.95"/>
<circle cx="461.3" cy="61.8" r="2.95"/>
<circle cx="465.5" cy="63.0" r="2.95"/>
<circle cx="472.4" cy="60.3" r="2.95"/>
<circle cx="480.0" cy="63.9" r="2.95"/>
<circle cx="487.9" cy="62.4" r="2.95"/>
<circle cx="495.4" cy="65.2" r="2.95"/>
</g>
<path d="M288.00,65.10 C291.00,65.38 299.52,66.52 306.00,66.80 C312.48,67.08 319.92,67.00 326.90,66.80 C333.88,66.60 342.67,65.70 347.90,65.60 C353.13,65.50 354.82,66.45 358.30,66.20 C361.78,65.95 366.00,64.97 368.80,64.10 C371.60,63.23 373.35,62.22 375.10,61.00 C376.85,59.78 377.90,57.50 379.30,56.80 C380.70,56.10 382.10,56.28 383.50,56.80 C384.90,57.32 385.78,60.18 387.70,59.90 C389.62,59.62 393.05,56.57 395.00,55.10 C396.95,53.63 397.95,51.83 399.40,51.10 C400.85,50.37 401.92,50.13 403.70,50.70 C405.48,51.27 407.62,53.08 410.10,54.50 C412.58,55.92 415.40,59.13 418.60,59.20 C421.80,59.27 426.45,55.33 429.30,54.90 C432.15,54.47 433.22,55.60 435.70,56.60 C438.18,57.60 441.37,60.65 444.20,60.90 C447.03,61.15 449.85,57.95 452.70,58.10 C455.55,58.25 457.73,61.27 461.30,61.80 C464.87,62.33 469.83,61.02 474.10,61.30 C478.37,61.58 481.75,62.85 486.90,63.50 C492.05,64.15 501.98,64.92 505.00,65.20" fill="none" stroke="#0a0aff" stroke-width="1.3" stroke-linejoin="round"/>
<g fill="#bcbcf2" stroke="#0a0aff" stroke-width="1.15">
<circle cx="289.5" cy="107.1" r="2.95"/>
<circle cx="293.1" cy="109.1" r="2.95"/>
<circle cx="297.2" cy="109.5" r="2.95"/>
<circle cx="300.9" cy="109.7" r="2.95"/>
<circle cx="304.8" cy="108.8" r="2.95"/>
<circle cx="308.7" cy="110.1" r="2.95"/>
<circle cx="312.5" cy="108.5" r="2.95"/>
<circle cx="316.3" cy="108.1" r="2.95"/>
<circle cx="320.4" cy="107.5" r="2.95"/>
<circle cx="324.3" cy="107.8" r="2.95"/>
<circle cx="327.9" cy="107.5" r="2.95"/>
<circle cx="331.8" cy="107.8" r="2.95"/>
<circle cx="335.9" cy="107.2" r="2.95"/>
<circle cx="339.7" cy="108.1" r="2.95"/>
<circle cx="343.6" cy="107.3" r="2.95"/>
<circle cx="345.8" cy="105.4" r="2.95"/>
<circle cx="352.0" cy="110.8" r="2.95"/>
<circle cx="355.0" cy="107.6" r="2.95"/>
<circle cx="358.7" cy="105.3" r="2.95"/>
<circle cx="362.7" cy="104.2" r="2.95"/>
<circle cx="366.6" cy="103.0" r="2.95"/>
<circle cx="370.3" cy="100.8" r="2.95"/>
<circle cx="374.2" cy="101.1" r="2.95"/>
<circle cx="378.1" cy="99.0" r="2.95"/>
<circle cx="380.3" cy="97.0" r="2.95"/>
<circle cx="387.7" cy="102.4" r="2.95"/>
<circle cx="389.8" cy="97.6" r="2.95"/>
<circle cx="391.9" cy="95.5" r="2.95"/>
<circle cx="395.1" cy="93.8" r="2.95"/>
<circle cx="397.4" cy="96.0" r="2.95"/>
<circle cx="401.3" cy="96.0" r="2.95"/>
<circle cx="405.2" cy="96.5" r="2.95"/>
<circle cx="409.0" cy="96.7" r="2.95"/>
<circle cx="413.0" cy="97.9" r="2.95"/>
<circle cx="416.7" cy="99.6" r="2.95"/>
<circle cx="420.8" cy="101.6" r="2.95"/>
<circle cx="426.1" cy="105.1" r="2.95"/>
<circle cx="428.3" cy="101.4" r="2.95"/>
<circle cx="430.3" cy="98.0" r="2.95"/>
<circle cx="432.1" cy="100.5" r="2.95"/>
<circle cx="437.8" cy="103.6" r="2.95"/>
<circle cx="439.8" cy="101.1" r="2.95"/>
<circle cx="442.1" cy="98.7" r="2.95"/>
<circle cx="447.6" cy="102.2" r="2.95"/>
<circle cx="451.6" cy="103.4" r="2.95"/>
<circle cx="455.4" cy="104.1" r="2.95"/>
<circle cx="459.2" cy="103.8" r="2.95"/>
<circle cx="463.1" cy="104.1" r="2.95"/>
<circle cx="465.5" cy="105.7" r="2.95"/>
<circle cx="472.4" cy="104.8" r="2.95"/>
<circle cx="480.0" cy="106.2" r="2.95"/>
<circle cx="487.9" cy="104.0" r="2.95"/>
<circle cx="495.4" cy="107.8" r="2.95"/>
</g>
<path d="M288.00,108.10 C291.00,108.27 299.52,109.10 306.00,109.10 C312.48,109.10 320.62,108.45 326.90,108.10 C333.18,107.75 339.85,106.83 343.70,107.00 C347.55,107.17 347.57,109.43 350.00,109.10 C352.43,108.77 355.17,106.22 358.30,105.00 C361.43,103.78 365.30,102.85 368.80,101.80 C372.30,100.75 376.50,98.87 379.30,98.70 C382.10,98.53 382.98,101.50 385.60,100.80 C388.22,100.10 391.63,95.22 395.00,94.50 C398.37,93.78 400.80,95.27 405.80,96.50 C410.80,97.73 420.02,101.18 425.00,101.90 C429.98,102.62 431.78,100.63 435.70,100.80 C439.62,100.97 443.88,102.30 448.50,102.90 C453.12,103.50 458.43,103.87 463.40,104.40 C468.37,104.93 471.37,105.53 478.30,106.10 C485.23,106.67 500.55,107.52 505.00,107.80" fill="none" stroke="#0a0aff" stroke-width="1.3" stroke-linejoin="round"/>
<g fill="#bcbcf2" stroke="#0a0aff" stroke-width="1.15">
<circle cx="289.3" cy="149.6" r="2.95"/>
<circle cx="293.1" cy="151.6" r="2.95"/>
<circle cx="298.6" cy="149.6" r="2.95"/>
<circle cx="301.0" cy="151.9" r="2.95"/>
<circle cx="306.0" cy="154.4" r="2.95"/>
<circle cx="310.1" cy="154.4" r="2.95"/>
<circle cx="312.5" cy="152.6" r="2.95"/>
<circle cx="317.5" cy="148.5" r="2.95"/>
<circle cx="320.2" cy="150.7" r="2.95"/>
<circle cx="324.1" cy="151.7" r="2.95"/>
<circle cx="329.0" cy="153.8" r="2.95"/>
<circle cx="332.0" cy="153.0" r="2.95"/>
<circle cx="335.6" cy="151.9" r="2.95"/>
<circle cx="341.2" cy="148.1" r="2.95"/>
<circle cx="343.5" cy="148.6" r="2.95"/>
<circle cx="347.3" cy="150.5" r="2.95"/>
<circle cx="351.0" cy="149.8" r="2.95"/>
<circle cx="355.1" cy="148.6" r="2.95"/>
<circle cx="360.4" cy="142.7" r="2.95"/>
<circle cx="362.8" cy="144.4" r="2.95"/>
<circle cx="366.5" cy="143.8" r="2.95"/>
<circle cx="372.0" cy="140.6" r="2.95"/>
<circle cx="374.2" cy="141.0" r="2.95"/>
<circle cx="379.3" cy="144.8" r="2.95"/>
<circle cx="382.1" cy="143.5" r="2.95"/>
<circle cx="387.7" cy="140.6" r="2.95"/>
<circle cx="389.8" cy="142.0" r="2.95"/>
<circle cx="394.0" cy="138.5" r="2.95"/>
<circle cx="397.6" cy="139.8" r="2.95"/>
<circle cx="403.2" cy="140.2" r="2.95"/>
<circle cx="405.2" cy="140.7" r="2.95"/>
<circle cx="409.1" cy="140.4" r="2.95"/>
<circle cx="411.1" cy="145.9" r="2.95"/>
<circle cx="414.3" cy="138.9" r="2.95"/>
<circle cx="416.9" cy="141.9" r="2.95"/>
<circle cx="420.6" cy="143.1" r="2.95"/>
<circle cx="426.1" cy="138.0" r="2.95"/>
<circle cx="428.3" cy="142.5" r="2.95"/>
<circle cx="432.3" cy="143.9" r="2.95"/>
<circle cx="436.0" cy="143.0" r="2.95"/>
<circle cx="440.0" cy="144.2" r="2.95"/>
<circle cx="445.3" cy="146.6" r="2.95"/>
<circle cx="447.6" cy="144.4" r="2.95"/>
<circle cx="451.4" cy="145.1" r="2.95"/>
<circle cx="453.8" cy="142.3" r="2.95"/>
<circle cx="459.2" cy="144.9" r="2.95"/>
<circle cx="463.1" cy="146.5" r="2.95"/>
<circle cx="465.5" cy="145.5" r="2.95"/>
<circle cx="473.0" cy="145.3" r="2.95"/>
<circle cx="480.0" cy="150.8" r="2.95"/>
<circle cx="487.9" cy="147.4" r="2.95"/>
<circle cx="495.4" cy="148.7" r="2.95"/>
</g>
<path d="M288.00,150.60 C289.60,150.60 294.60,150.07 297.60,150.60 C300.60,151.13 302.87,153.80 306.00,153.80 C309.13,153.80 312.57,150.78 316.40,150.60 C320.23,150.42 324.80,152.87 329.00,152.70 C333.20,152.53 337.42,150.12 341.60,149.60 C345.78,149.08 350.97,150.48 354.10,149.60 C357.23,148.72 357.95,145.53 360.40,144.30 C362.85,143.07 366.70,142.72 368.80,142.20 C370.90,141.68 371.25,140.85 373.00,141.20 C374.75,141.55 376.85,144.20 379.30,144.30 C381.75,144.40 385.08,142.67 387.70,141.80 C390.32,140.93 390.57,139.02 395.00,139.10 C399.43,139.18 407.52,141.52 414.30,142.30 C421.08,143.08 428.58,143.30 435.70,143.80 C442.82,144.30 450.60,144.95 457.00,145.30 C463.40,145.65 469.83,145.43 474.10,145.90 C478.37,146.37 477.45,147.48 482.60,148.10 C487.75,148.72 501.27,149.35 505.00,149.60" fill="none" stroke="#0a0aff" stroke-width="1.3" stroke-linejoin="round"/>
<g fill="#bcbcf2" stroke="#0a0aff" stroke-width="1.15">
<circle cx="289.4" cy="193.9" r="2.95"/>
<circle cx="293.2" cy="192.6" r="2.95"/>
<circle cx="297.2" cy="194.3" r="2.95"/>
<circle cx="300.8" cy="193.0" r="2.95"/>
<circle cx="304.9" cy="193.6" r="2.95"/>
<circle cx="308.6" cy="193.3" r="2.95"/>
<circle cx="312.7" cy="193.8" r="2.95"/>
<circle cx="316.3" cy="192.7" r="2.95"/>
<circle cx="320.3" cy="192.8" r="2.95"/>
<circle cx="324.0" cy="193.5" r="2.95"/>
<circle cx="328.1" cy="193.5" r="2.95"/>
<circle cx="331.8" cy="192.4" r="2.95"/>
<circle cx="335.7" cy="193.0" r="2.95"/>
<circle cx="339.5" cy="192.2" r="2.95"/>
<circle cx="343.5" cy="190.2" r="2.95"/>
<circle cx="347.4" cy="189.7" r="2.95"/>
<circle cx="351.1" cy="188.5" r="2.95"/>
<circle cx="355.0" cy="186.1" r="2.95"/>
<circle cx="359.0" cy="183.9" r="2.95"/>
<circle cx="360.8" cy="181.0" r="2.95"/>
<circle cx="364.6" cy="182.5" r="2.95"/>
<circle cx="366.6" cy="182.6" r="2.95"/>
<circle cx="370.6" cy="183.9" r="2.95"/>
<circle cx="374.2" cy="184.7" r="2.95"/>
<circle cx="377.2" cy="185.2" r="2.95"/>
<circle cx="383.5" cy="189.4" r="2.95"/>
<circle cx="385.9" cy="187.6" r="2.95"/>
<circle cx="389.9" cy="188.2" r="2.95"/>
<circle cx="394.0" cy="183.1" r="2.95"/>
<circle cx="397.6" cy="185.3" r="2.95"/>
<circle cx="402.6" cy="188.6" r="2.95"/>
<circle cx="405.1" cy="187.0" r="2.95"/>
<circle cx="409.2" cy="184.0" r="2.95"/>
<circle cx="411.1" cy="181.6" r="2.95"/>
<circle cx="414.3" cy="186.5" r="2.95"/>
<circle cx="416.6" cy="184.2" r="2.95"/>
<circle cx="420.6" cy="184.1" r="2.95"/>
<circle cx="424.4" cy="183.4" r="2.95"/>
<circle cx="429.7" cy="183.7" r="2.95"/>
<circle cx="432.1" cy="183.5" r="2.95"/>
<circle cx="436.0" cy="184.3" r="2.95"/>
<circle cx="439.8" cy="186.5" r="2.95"/>
<circle cx="442.1" cy="185.0" r="2.95"/>
<circle cx="447.6" cy="187.7" r="2.95"/>
<circle cx="451.6" cy="187.0" r="2.95"/>
<circle cx="455.4" cy="188.6" r="2.95"/>
<circle cx="459.2" cy="187.6" r="2.95"/>
<circle cx="461.3" cy="187.1" r="2.95"/>
<circle cx="465.5" cy="189.0" r="2.95"/>
<circle cx="472.4" cy="191.8" r="2.95"/>
<circle cx="480.0" cy="191.4" r="2.95"/>
<circle cx="487.9" cy="189.2" r="2.95"/>
<circle cx="495.4" cy="193.5" r="2.95"/>
</g>
<path d="M288.00,193.00 C291.00,193.10 299.52,193.60 306.00,193.60 C312.48,193.60 321.32,193.35 326.90,193.00 C332.48,192.65 336.00,192.00 339.50,191.50 C343.00,191.00 345.12,190.88 347.90,190.00 C350.68,189.12 354.05,187.60 356.20,186.20 C358.35,184.80 358.70,181.95 360.80,181.60 C362.90,181.25 366.07,183.33 368.80,184.10 C371.53,184.87 374.75,185.32 377.20,186.20 C379.65,187.08 381.40,189.22 383.50,189.40 C385.60,189.58 387.88,188.18 389.80,187.30 C391.72,186.42 392.68,184.23 395.00,184.10 C397.32,183.97 400.83,186.57 403.70,186.50 C406.57,186.43 407.93,184.17 412.20,183.70 C416.47,183.23 423.62,183.23 429.30,183.70 C434.98,184.17 440.62,185.58 446.30,186.50 C451.98,187.42 457.35,188.38 463.40,189.20 C469.45,190.02 475.67,190.78 482.60,191.40 C489.53,192.02 501.27,192.65 505.00,192.90" fill="none" stroke="#0a0aff" stroke-width="1.3" stroke-linejoin="round"/>
<g fill="#bcbcf2" stroke="#0a0aff" stroke-width="1.15">
<circle cx="289.5" cy="236.2" r="2.95"/>
<circle cx="293.2" cy="236.0" r="2.95"/>
<circle cx="297.0" cy="237.7" r="2.95"/>
<circle cx="301.1" cy="236.8" r="2.95"/>
<circle cx="304.7" cy="237.8" r="2.95"/>
<circle cx="308.6" cy="236.2" r="2.95"/>
<circle cx="312.5" cy="238.0" r="2.95"/>
<circle cx="316.5" cy="237.4" r="2.95"/>
<circle cx="320.2" cy="236.3" r="2.95"/>
<circle cx="324.2" cy="237.5" r="2.95"/>
<circle cx="328.1" cy="236.0" r="2.95"/>
<circle cx="330.2" cy="238.7" r="2.95"/>
<circle cx="333.9" cy="234.2" r="2.95"/>
<circle cx="339.5" cy="233.1" r="2.95"/>
<circle cx="343.5" cy="230.8" r="2.95"/>
<circle cx="345.6" cy="232.0" r="2.95"/>
<circle cx="348.9" cy="224.8" r="2.95"/>
<circle cx="352.2" cy="222.6" r="2.95"/>
<circle cx="356.6" cy="221.0" r="2.95"/>
<circle cx="360.0" cy="228.1" r="2.95"/>
<circle cx="364.4" cy="229.2" r="2.95"/>
<circle cx="368.3" cy="232.5" r="2.95"/>
<circle cx="372.1" cy="235.8" r="2.95"/>
<circle cx="374.4" cy="235.5" r="2.95"/>
<circle cx="378.0" cy="233.8" r="2.95"/>
<circle cx="382.0" cy="231.6" r="2.95"/>
<circle cx="386.0" cy="232.5" r="2.95"/>
<circle cx="389.7" cy="231.2" r="2.95"/>
<circle cx="393.6" cy="231.1" r="2.95"/>
<circle cx="398.5" cy="232.9" r="2.95"/>
<circle cx="401.2" cy="231.0" r="2.95"/>
<circle cx="405.3" cy="230.0" r="2.95"/>
<circle cx="407.3" cy="227.6" r="2.95"/>
<circle cx="413.0" cy="228.8" r="2.95"/>
<circle cx="418.4" cy="225.4" r="2.95"/>
<circle cx="420.6" cy="227.3" r="2.95"/>
<circle cx="424.5" cy="226.9" r="2.95"/>
<circle cx="428.2" cy="228.2" r="2.95"/>
<circle cx="432.3" cy="227.1" r="2.95"/>
<circle cx="437.1" cy="230.3" r="2.95"/>
<circle cx="439.8" cy="227.6" r="2.95"/>
<circle cx="444.8" cy="225.9" r="2.95"/>
<circle cx="447.7" cy="227.4" r="2.95"/>
<circle cx="451.7" cy="228.4" r="2.95"/>
<circle cx="455.5" cy="230.5" r="2.95"/>
<circle cx="459.1" cy="229.9" r="2.95"/>
<circle cx="464.6" cy="232.5" r="2.95"/>
<circle cx="467.0" cy="231.1" r="2.95"/>
<circle cx="472.4" cy="234.2" r="2.95"/>
<circle cx="480.0" cy="234.5" r="2.95"/>
<circle cx="487.8" cy="235.8" r="2.95"/>
<circle cx="495.5" cy="235.1" r="2.95"/>
</g>
<path d="M288.00,236.40 C291.17,236.55 300.52,237.30 307.00,237.30 C313.48,237.30 322.85,236.47 326.90,236.40 C330.95,236.33 329.47,237.27 331.30,236.90 C333.13,236.53 335.70,235.12 337.90,234.20 C340.10,233.28 342.67,232.78 344.50,231.40 C346.33,230.02 347.43,227.27 348.90,225.90 C350.37,224.53 352.02,224.02 353.30,223.20 C354.58,222.38 355.30,220.18 356.60,221.00 C357.90,221.82 359.43,226.37 361.10,228.10 C362.77,229.83 364.77,230.12 366.60,231.40 C368.43,232.68 370.27,235.55 372.10,235.80 C373.93,236.05 375.22,233.63 377.60,232.90 C379.98,232.17 383.83,231.65 386.40,231.40 C388.97,231.15 389.70,231.77 393.00,231.40 C396.30,231.03 401.78,229.93 406.20,229.20 C410.62,228.47 414.35,227.18 419.50,227.00 C424.65,226.82 431.97,227.85 437.10,228.10 C442.23,228.35 445.90,227.95 450.30,228.50 C454.70,229.05 458.35,230.45 463.50,231.40 C468.65,232.35 474.28,233.47 481.20,234.20 C488.12,234.93 501.03,235.53 505.00,235.80" fill="none" stroke="#0a0aff" stroke-width="1.3" stroke-linejoin="round"/>
<g fill="#bcbcf2" stroke="#0a0aff" stroke-width="1.15">
<circle cx="289.4" cy="279.1" r="2.95"/>
<circle cx="293.2" cy="278.8" r="2.95"/>
<circle cx="297.2" cy="280.5" r="2.95"/>
<circle cx="299.3" cy="277.7" r="2.95"/>
<circle cx="303.1" cy="282.1" r="2.95"/>
<circle cx="308.8" cy="281.4" r="2.95"/>
<circle cx="312.4" cy="280.8" r="2.95"/>
<circle cx="316.4" cy="280.8" r="2.95"/>
<circle cx="320.2" cy="279.7" r="2.95"/>
<circle cx="324.0" cy="279.3" r="2.95"/>
<circle cx="327.9" cy="277.5" r="2.95"/>
<circle cx="330.2" cy="277.7" r="2.95"/>
<circle cx="333.1" cy="271.1" r="2.95"/>
<circle cx="337.5" cy="262.2" r="2.95"/>
<circle cx="339.7" cy="263.1" r="2.95"/>
<circle cx="341.9" cy="264.4" r="2.95"/>
<circle cx="347.2" cy="269.8" r="2.95"/>
<circle cx="351.3" cy="272.4" r="2.95"/>
<circle cx="354.9" cy="275.2" r="2.95"/>
<circle cx="358.9" cy="277.6" r="2.95"/>
<circle cx="362.6" cy="279.6" r="2.95"/>
<circle cx="368.3" cy="279.9" r="2.95"/>
<circle cx="370.6" cy="278.7" r="2.95"/>
<circle cx="375.8" cy="272.6" r="2.95"/>
<circle cx="379.8" cy="273.3" r="2.95"/>
<circle cx="382.2" cy="274.5" r="2.95"/>
<circle cx="385.8" cy="273.7" r="2.95"/>
<circle cx="389.7" cy="273.5" r="2.95"/>
<circle cx="391.9" cy="277.0" r="2.95"/>
<circle cx="395.2" cy="276.1" r="2.95"/>
<circle cx="397.5" cy="274.0" r="2.95"/>
<circle cx="399.6" cy="270.4" r="2.95"/>
<circle cx="405.2" cy="272.3" r="2.95"/>
<circle cx="410.6" cy="268.9" r="2.95"/>
<circle cx="413.9" cy="272.6" r="2.95"/>
<circle cx="416.8" cy="271.9" r="2.95"/>
<circle cx="420.7" cy="270.6" r="2.95"/>
<circle cx="424.4" cy="272.1" r="2.95"/>
<circle cx="428.4" cy="271.5" r="2.95"/>
<circle cx="432.2" cy="270.8" r="2.95"/>
<circle cx="437.1" cy="274.8" r="2.95"/>
<circle cx="439.9" cy="270.9" r="2.95"/>
<circle cx="443.8" cy="270.9" r="2.95"/>
<circle cx="447.6" cy="271.4" r="2.95"/>
<circle cx="452.9" cy="267.7" r="2.95"/>
<circle cx="455.3" cy="269.4" r="2.95"/>
<circle cx="459.1" cy="271.5" r="2.95"/>
<circle cx="463.0" cy="271.4" r="2.95"/>
<circle cx="465.5" cy="273.0" r="2.95"/>
<circle cx="472.4" cy="274.0" r="2.95"/>
<circle cx="480.1" cy="278.3" r="2.95"/>
<circle cx="487.8" cy="277.7" r="2.95"/>
<circle cx="495.5" cy="275.5" r="2.95"/>
</g>
<path d="M288.00,278.30 C290.43,278.82 297.58,281.13 302.60,281.40 C307.62,281.67 313.50,280.52 318.10,279.90 C322.70,279.28 327.57,279.17 330.20,277.70 C332.83,276.23 332.68,273.57 333.90,271.10 C335.12,268.63 336.10,263.90 337.50,262.90 C338.90,261.90 340.40,263.73 342.30,265.10 C344.20,266.47 346.70,269.37 348.90,271.10 C351.10,272.83 353.28,274.30 355.50,275.50 C357.72,276.70 360.07,277.47 362.20,278.30 C364.33,279.13 366.47,280.78 368.30,280.50 C370.13,280.22 371.65,277.92 373.20,276.60 C374.75,275.28 375.40,272.90 377.60,272.60 C379.80,272.30 383.83,274.58 386.40,274.80 C388.97,275.02 389.70,274.52 393.00,273.90 C396.30,273.28 401.05,271.57 406.20,271.10 C411.35,270.63 418.02,271.00 423.90,271.10 C429.78,271.20 436.37,271.82 441.50,271.70 C446.63,271.58 450.28,270.25 454.70,270.40 C459.12,270.55 462.85,271.65 468.00,272.60 C473.15,273.55 479.43,275.25 485.60,276.10 C491.77,276.95 501.77,277.43 505.00,277.70" fill="none" stroke="#0a0aff" stroke-width="1.3" stroke-linejoin="round"/>
<g fill="#bcbcf2" stroke="#0a0aff" stroke-width="1.15">
<circle cx="290.9" cy="320.6" r="2.95"/>
<circle cx="295.1" cy="319.0" r="2.95"/>
<circle cx="297.1" cy="320.6" r="2.95"/>
<circle cx="299.4" cy="318.2" r="2.95"/>
<circle cx="302.5" cy="323.2" r="2.95"/>
<circle cx="304.7" cy="320.0" r="2.95"/>
<circle cx="308.8" cy="322.5" r="2.95"/>
<circle cx="313.8" cy="323.0" r="2.95"/>
<circle cx="318.3" cy="320.5" r="2.95"/>
<circle cx="322.0" cy="312.5" r="2.95"/>
<circle cx="325.8" cy="303.0" r="2.95"/>
<circle cx="329.5" cy="300.5" r="2.95"/>
<circle cx="331.9" cy="302.5" r="2.95"/>
<circle cx="333.8" cy="305.0" r="2.95"/>
<circle cx="337.5" cy="312.5" r="2.95"/>
<circle cx="341.3" cy="317.0" r="2.95"/>
<circle cx="343.3" cy="317.9" r="2.95"/>
<circle cx="346.3" cy="319.5" r="2.95"/>
<circle cx="350.5" cy="321.3" r="2.95"/>
<circle cx="356.3" cy="322.5" r="2.95"/>
<circle cx="358.9" cy="320.8" r="2.95"/>
<circle cx="364.5" cy="317.5" r="2.95"/>
<circle cx="368.0" cy="322.0" r="2.95"/>
<circle cx="370.4" cy="317.1" r="2.95"/>
<circle cx="373.0" cy="316.3" r="2.95"/>
<circle cx="379.5" cy="315.0" r="2.95"/>
<circle cx="383.8" cy="319.5" r="2.95"/>
<circle cx="386.0" cy="317.5" r="2.95"/>
<circle cx="390.0" cy="317.0" r="2.95"/>
<circle cx="395.5" cy="316.3" r="2.95"/>
<circle cx="397.5" cy="315.6" r="2.95"/>
<circle cx="403.0" cy="317.0" r="2.95"/>
<circle cx="405.2" cy="314.1" r="2.95"/>
<circle cx="409.2" cy="314.4" r="2.95"/>
<circle cx="411.0" cy="310.0" r="2.95"/>
<circle cx="412.8" cy="312.4" r="2.95"/>
<circle cx="415.0" cy="315.0" r="2.95"/>
<circle cx="420.6" cy="311.5" r="2.95"/>
<circle cx="423.0" cy="309.5" r="2.95"/>
<circle cx="428.5" cy="308.8" r="2.95"/>
<circle cx="430.5" cy="310.0" r="2.95"/>
<circle cx="436.2" cy="308.8" r="2.95"/>
<circle cx="438.0" cy="312.5" r="2.95"/>
<circle cx="440.1" cy="308.1" r="2.95"/>
<circle cx="445.5" cy="306.3" r="2.95"/>
<circle cx="447.6" cy="306.3" r="2.95"/>
<circle cx="453.0" cy="304.5" r="2.95"/>
<circle cx="455.4" cy="304.0" r="2.95"/>
<circle cx="460.5" cy="307.5" r="2.95"/>
<circle cx="463.2" cy="305.6" r="2.95"/>
<circle cx="465.5" cy="305.0" r="2.95"/>
<circle cx="472.4" cy="305.5" r="2.95"/>
<circle cx="480.5" cy="305.5" r="2.95"/>
<circle cx="487.5" cy="310.5" r="2.95"/>
<circle cx="495.5" cy="307.0" r="2.95"/>
</g>
<path d="M288.00,321.30 C290.00,321.00 296.33,319.30 300.00,319.50 C303.67,319.70 307.08,322.42 310.00,322.50 C312.92,322.58 315.42,321.87 317.50,320.00 C319.58,318.13 321.03,314.00 322.50,311.30 C323.97,308.60 325.05,305.60 326.30,303.80 C327.55,302.00 328.75,300.30 330.00,300.50 C331.25,300.70 332.55,302.92 333.80,305.00 C335.05,307.08 335.63,310.70 337.50,313.00 C339.37,315.30 342.08,317.22 345.00,318.80 C347.92,320.38 351.67,322.30 355.00,322.50 C358.33,322.70 362.08,321.03 365.00,320.00 C367.92,318.97 370.20,317.13 372.50,316.30 C374.80,315.47 376.72,314.72 378.80,315.00 C380.88,315.28 382.63,317.67 385.00,318.00 C387.37,318.33 389.17,317.70 393.00,317.00 C396.83,316.30 403.00,314.88 408.00,313.80 C413.00,312.72 418.00,311.33 423.00,310.50 C428.00,309.67 433.00,309.72 438.00,308.80 C443.00,307.88 448.00,305.55 453.00,305.00 C458.00,304.45 463.00,305.28 468.00,305.50 C473.00,305.72 476.83,305.88 483.00,306.30 C489.17,306.72 501.33,307.72 505.00,308.00" fill="none" stroke="#0a0aff" stroke-width="1.3" stroke-linejoin="round"/>
<g fill="#bcbcf2" stroke="#0a0aff" stroke-width="1.15">
<circle cx="289.4" cy="356.3" r="2.95"/>
<circle cx="291.3" cy="358.0" r="2.95"/>
<circle cx="293.3" cy="359.4" r="2.95"/>
<circle cx="296.3" cy="360.5" r="2.95"/>
<circle cx="302.5" cy="365.0" r="2.95"/>
<circle cx="304.8" cy="361.9" r="2.95"/>
<circle cx="307.0" cy="362.0" r="2.95"/>
<circle cx="310.0" cy="353.0" r="2.95"/>
<circle cx="313.8" cy="348.0" r="2.95"/>
<circle cx="316.5" cy="347.4" r="2.95"/>
<circle cx="318.8" cy="345.5" r="2.95"/>
<circle cx="322.5" cy="348.0" r="2.95"/>
<circle cx="325.5" cy="351.3" r="2.95"/>
<circle cx="328.0" cy="352.1" r="2.95"/>
<circle cx="330.0" cy="355.0" r="2.95"/>
<circle cx="333.8" cy="361.3" r="2.95"/>
<circle cx="335.9" cy="361.1" r="2.95"/>
<circle cx="338.8" cy="362.0" r="2.95"/>
<circle cx="343.8" cy="362.0" r="2.95"/>
<circle cx="348.8" cy="362.0" r="2.95"/>
<circle cx="352.5" cy="363.0" r="2.95"/>
<circle cx="354.9" cy="361.3" r="2.95"/>
<circle cx="357.0" cy="362.5" r="2.95"/>
<circle cx="360.5" cy="356.3" r="2.95"/>
<circle cx="362.9" cy="357.8" r="2.95"/>
<circle cx="365.5" cy="357.0" r="2.95"/>
<circle cx="370.0" cy="355.5" r="2.95"/>
<circle cx="375.0" cy="352.0" r="2.95"/>
<circle cx="379.5" cy="350.5" r="2.95"/>
<circle cx="383.8" cy="351.3" r="2.95"/>
<circle cx="385.8" cy="350.4" r="2.95"/>
<circle cx="388.8" cy="350.0" r="2.95"/>
<circle cx="393.0" cy="348.8" r="2.95"/>
<circle cx="395.5" cy="347.5" r="2.95"/>
<circle cx="397.4" cy="348.7" r="2.95"/>
<circle cx="403.0" cy="346.3" r="2.95"/>
<circle cx="405.2" cy="345.8" r="2.95"/>
<circle cx="409.0" cy="344.2" r="2.95"/>
<circle cx="411.0" cy="344.5" r="2.95"/>
<circle cx="412.8" cy="342.8" r="2.95"/>
<circle cx="415.0" cy="337.0" r="2.95"/>
<circle cx="420.5" cy="337.5" r="2.95"/>
<circle cx="424.6" cy="338.2" r="2.95"/>
<circle cx="428.3" cy="338.2" r="2.95"/>
<circle cx="430.5" cy="341.3" r="2.95"/>
<circle cx="435.0" cy="333.8" r="2.95"/>
<circle cx="439.3" cy="333.0" r="2.95"/>
<circle cx="445.5" cy="336.3" r="2.95"/>
<circle cx="447.6" cy="334.1" r="2.95"/>
<circle cx="450.0" cy="332.0" r="2.95"/>
<circle cx="455.3" cy="334.4" r="2.95"/>
<circle cx="460.5" cy="328.0" r="2.95"/>
<circle cx="463.0" cy="333.1" r="2.95"/>
<circle cx="465.5" cy="333.8" r="2.95"/>
<circle cx="472.5" cy="338.8" r="2.95"/>
<circle cx="480.5" cy="343.0" r="2.95"/>
<circle cx="488.0" cy="343.8" r="2.95"/>
<circle cx="495.5" cy="343.0" r="2.95"/>
</g>
<path d="M288.00,356.30 C288.97,356.92 291.38,358.55 293.80,360.00 C296.22,361.45 300.22,365.00 302.50,365.00 C304.78,365.00 306.03,362.08 307.50,360.00 C308.97,357.92 309.63,354.78 311.30,352.50 C312.97,350.22 315.63,347.13 317.50,346.30 C319.37,345.47 320.62,346.25 322.50,347.50 C324.38,348.75 326.92,351.72 328.80,353.80 C330.68,355.88 331.10,358.55 333.80,360.00 C336.50,361.45 341.47,362.17 345.00,362.50 C348.53,362.83 352.50,362.83 355.00,362.00 C357.50,361.17 357.50,358.67 360.00,357.50 C362.50,356.33 366.67,356.03 370.00,355.00 C373.33,353.97 376.17,352.22 380.00,351.30 C383.83,350.38 388.33,350.75 393.00,349.50 C397.67,348.25 403.00,345.58 408.00,343.80 C413.00,342.02 418.00,340.27 423.00,338.80 C428.00,337.33 433.00,335.72 438.00,335.00 C443.00,334.28 448.42,334.70 453.00,334.50 C457.58,334.30 461.33,333.08 465.50,333.80 C469.67,334.52 473.42,337.27 478.00,338.80 C482.58,340.33 488.50,341.75 493.00,343.00 C497.50,344.25 503.00,345.75 505.00,346.30" fill="none" stroke="#0a0aff" stroke-width="1.3" stroke-linejoin="round"/>
</g>
<rect x="49.80" y="22.00" width="216.20" height="349.40" fill="none" stroke="#000" stroke-width="1.3"/>
<path d="M57.52,371.40V368.40M57.52,22.00V25.00M65.24,371.40V368.40M65.24,22.00V25.00M72.96,371.40V366.90M72.96,22.00V26.50M80.69,371.40V368.40M80.69,22.00V25.00M88.41,371.40V368.40M88.41,22.00V25.00M96.13,371.40V368.40M96.13,22.00V25.00M103.85,371.40V368.40M103.85,22.00V25.00M111.57,371.40V366.90M111.57,22.00V26.50M119.29,371.40V368.40M119.29,22.00V25.00M127.01,371.40V368.40M127.01,22.00V25.00M134.74,371.40V368.40M134.74,22.00V25.00M142.46,371.40V368.40M142.46,22.00V25.00M150.18,371.40V366.90M150.18,22.00V26.50M157.90,371.40V368.40M157.90,22.00V25.00M165.62,371.40V368.40M165.62,22.00V25.00M173.34,371.40V368.40M173.34,22.00V25.00M181.06,371.40V368.40M181.06,22.00V25.00M188.79,371.40V366.90M188.79,22.00V26.50M196.51,371.40V368.40M196.51,22.00V25.00M204.23,371.40V368.40M204.23,22.00V25.00M211.95,371.40V368.40M211.95,22.00V25.00M219.67,371.40V368.40M219.67,22.00V25.00M227.39,371.40V366.90M227.39,22.00V26.50M235.11,371.40V368.40M235.11,22.00V25.00M242.84,371.40V368.40M242.84,22.00V25.00M250.56,371.40V368.40M250.56,22.00V25.00M258.28,371.40V368.40M258.28,22.00V25.00M49.80,355.57H52.80M266.00,355.57H263.00M49.80,340.05H54.30M266.00,340.05H261.50M49.80,324.52H52.80M266.00,324.52H263.00M49.80,308.99H54.30M266.00,308.99H261.50M49.80,293.46H52.80M266.00,293.46H263.00M49.80,277.94H54.30M266.00,277.94H261.50M49.80,262.41H52.80M266.00,262.41H263.00M49.80,246.88H54.30M266.00,246.88H261.50M49.80,231.35H52.80M266.00,231.35H263.00M49.80,215.83H54.30M266.00,215.83H261.50M49.80,200.30H52.80M266.00,200.30H263.00M49.80,184.77H54.30M266.00,184.77H261.50M49.80,169.25H52.80M266.00,169.25H263.00M49.80,153.72H54.30M266.00,153.72H261.50M49.80,138.19H52.80M266.00,138.19H263.00M49.80,122.66H54.30M266.00,122.66H261.50M49.80,107.14H52.80M266.00,107.14H263.00M49.80,91.61H54.30M266.00,91.61H261.50M49.80,76.08H52.80M266.00,76.08H263.00M49.80,60.55H54.30M266.00,60.55H261.50M49.80,45.03H52.80M266.00,45.03H263.00M49.80,29.50H54.30M266.00,29.50H261.50" stroke="#000" stroke-width="1.2" fill="none"/>
<rect x="287.90" y="22.00" width="215.70" height="349.40" fill="none" stroke="#000" stroke-width="1.3"/>
<path d="M295.60,371.40V368.40M295.60,22.00V25.00M303.31,371.40V368.40M303.31,22.00V25.00M311.01,371.40V366.90M311.01,22.00V26.50M318.71,371.40V368.40M318.71,22.00V25.00M326.42,371.40V368.40M326.42,22.00V25.00M334.12,371.40V368.40M334.12,22.00V25.00M341.82,371.40V368.40M341.82,22.00V25.00M349.53,371.40V366.90M349.53,22.00V26.50M357.23,371.40V368.40M357.23,22.00V25.00M364.94,371.40V368.40M364.94,22.00V25.00M372.64,371.40V368.40M372.64,22.00V25.00M380.34,371.40V368.40M380.34,22.00V25.00M388.05,371.40V366.90M388.05,22.00V26.50M395.75,371.40V368.40M395.75,22.00V25.00M403.45,371.40V368.40M403.45,22.00V25.00M411.16,371.40V368.40M411.16,22.00V25.00M418.86,371.40V368.40M418.86,22.00V25.00M426.56,371.40V366.90M426.56,22.00V26.50M434.27,371.40V368.40M434.27,22.00V25.00M441.97,371.40V368.40M441.97,22.00V25.00M449.68,371.40V368.40M449.68,22.00V25.00M457.38,371.40V368.40M457.38,22.00V25.00M465.08,371.40V366.90M465.08,22.00V26.50M472.79,371.40V368.40M472.79,22.00V25.00M480.49,371.40V368.40M480.49,22.00V25.00M488.19,371.40V368.40M488.19,22.00V25.00M495.90,371.40V368.40M495.90,22.00V25.00M287.90,355.57H290.90M503.60,355.57H500.60M287.90,340.05H292.40M503.60,340.05H499.10M287.90,324.52H290.90M503.60,324.52H500.60M287.90,308.99H292.40M503.60,308.99H499.10M287.90,293.46H290.90M503.60,293.46H500.60M287.90,277.94H292.40M503.60,277.94H499.10M287.90,262.41H290.90M503.60,262.41H500.60M287.90,246.88H292.40M503.60,246.88H499.10M287.90,231.35H290.90M503.60,231.35H500.60M287.90,215.83H292.40M503.60,215.83H499.10M287.90,200.30H290.90M503.60,200.30H500.60M287.90,184.77H292.40M503.60,184.77H499.10M287.90,169.25H290.90M503.60,169.25H500.60M287.90,153.72H292.40M503.60,153.72H499.10M287.90,138.19H290.90M503.60,138.19H500.60M287.90,122.66H292.40M503.60,122.66H499.10M287.90,107.14H290.90M503.60,107.14H500.60M287.90,91.61H292.40M503.60,91.61H499.10M287.90,76.08H290.90M503.60,76.08H500.60M287.90,60.55H292.40M503.60,60.55H499.10M287.90,45.03H290.90M503.60,45.03H500.60M287.90,29.50H292.40M503.60,29.50H499.10" stroke="#000" stroke-width="1.2" fill="none"/>
<g font-family='"Liberation Sans", sans-serif' fill="#000" stroke="#000" stroke-width="0.12">
<text x="45.40" y="374.70" text-anchor="end" font-size="12.30" >0</text>
<text x="45.40" y="343.65" text-anchor="end" font-size="12.30" >200</text>
<text x="45.40" y="312.59" text-anchor="end" font-size="12.30" >400</text>
<text x="45.40" y="281.54" text-anchor="end" font-size="12.30" >600</text>
<text x="45.40" y="250.48" text-anchor="end" font-size="12.30" >800</text>
<text x="45.40" y="219.43" text-anchor="end" font-size="12.30" >1000</text>
<text x="45.40" y="188.37" text-anchor="end" font-size="12.30" >1200</text>
<text x="45.40" y="157.32" text-anchor="end" font-size="12.30" >1400</text>
<text x="45.40" y="126.26" text-anchor="end" font-size="12.30" >1600</text>
<text x="45.40" y="95.21" text-anchor="end" font-size="12.30" >1800</text>
<text x="45.40" y="64.15" text-anchor="end" font-size="12.30" >2000</text>
<text x="45.40" y="33.10" text-anchor="end" font-size="12.30" >2200</text>
<text x="73.26" y="385.60" text-anchor="middle" font-size="12.30" >5</text>
<text x="111.87" y="385.60" text-anchor="middle" font-size="12.30" >10</text>
<text x="150.48" y="385.60" text-anchor="middle" font-size="12.30" >15</text>
<text x="189.09" y="385.60" text-anchor="middle" font-size="12.30" >20</text>
<text x="227.69" y="385.60" text-anchor="middle" font-size="12.30" >25</text>
<text x="266.30" y="385.60" text-anchor="middle" font-size="12.30" >30</text>
<text x="157.90" y="405.20" text-anchor="middle" font-size="12.30" >Energy (meV)</text>
<text x="311.31" y="385.60" text-anchor="middle" font-size="12.30" >5</text>
<text x="349.83" y="385.60" text-anchor="middle" font-size="12.30" >10</text>
<text x="388.35" y="385.60" text-anchor="middle" font-size="12.30" >15</text>
<text x="426.86" y="385.60" text-anchor="middle" font-size="12.30" >20</text>
<text x="465.38" y="385.60" text-anchor="middle" font-size="12.30" >25</text>
<text x="503.90" y="385.60" text-anchor="middle" font-size="12.30" >30</text>
<text x="395.75" y="405.20" text-anchor="middle" font-size="12.30" >Energy (meV)</text>
<text x="161.80" y="8.90" text-anchor="middle" font-size="12.40" >(a)</text>
<text x="399.70" y="8.90" text-anchor="middle" font-size="12.40" >(b)</text>
<text x="57.60" y="39.30" text-anchor="start" font-size="12.30" ><tspan font-weight="bold">Q</tspan> = (4,0,-q)</text>
<text x="59.40" y="53.90" text-anchor="start" font-size="12.30" letter-spacing="0.2">T = 2 K</text>
<text x="295.30" y="39.30" text-anchor="start" font-size="12.30" ><tspan font-weight="bold">Q</tspan> = (q,0,4)</text>
<text x="297.40" y="53.90" text-anchor="start" font-size="12.30" letter-spacing="0.2">T = 2 K</text>
<text x="263.00" y="46.70" text-anchor="end" font-size="12.30" >q = 1.0</text>
<text x="499.70" y="45.00" text-anchor="end" font-size="12.30" >q = 1.0</text>
<text x="263.00" y="88.30" text-anchor="end" font-size="12.30" >q = 0.9</text>
<text x="499.70" y="88.00" text-anchor="end" font-size="12.30" >q = 0.9</text>
<text x="263.00" y="131.30" text-anchor="end" font-size="12.30" >q = 0.8</text>
<text x="499.70" y="131.00" text-anchor="end" font-size="12.30" >q = 0.8</text>
<text x="263.00" y="174.20" text-anchor="end" font-size="12.30" >q = 0.7</text>
<text x="499.70" y="174.00" text-anchor="end" font-size="12.30" >q = 0.7</text>
<text x="263.00" y="216.50" text-anchor="end" font-size="12.30" >q = 0.6</text>
<text x="499.70" y="216.30" text-anchor="end" font-size="12.30" >q = 0.6</text>
<text x="263.00" y="256.20" text-anchor="end" font-size="12.30" >q = 0.5</text>
<text x="499.70" y="257.50" text-anchor="end" font-size="12.30" >q = 0.5</text>
<text x="263.00" y="291.80" text-anchor="end" font-size="12.30" >q = 0.4</text>
<text x="499.70" y="296.00" text-anchor="end" font-size="12.30" >q = 0.4</text>
<text x="263.00" y="327.00" text-anchor="end" font-size="12.30" >q = 0.3</text>
<text x="499.70" y="325.20" text-anchor="end" font-size="12.30" >q = 0.3</text>
<text transform="translate(10.4,196.2) rotate(-90)" text-anchor="middle" font-size="11.2">Intensity (counts/10<tspan font-size="7.5" dy="-4.3">5</tspan><tspan dy="4.3"> monitor)</tspan></text>
</g>
</svg>
</body></html>
